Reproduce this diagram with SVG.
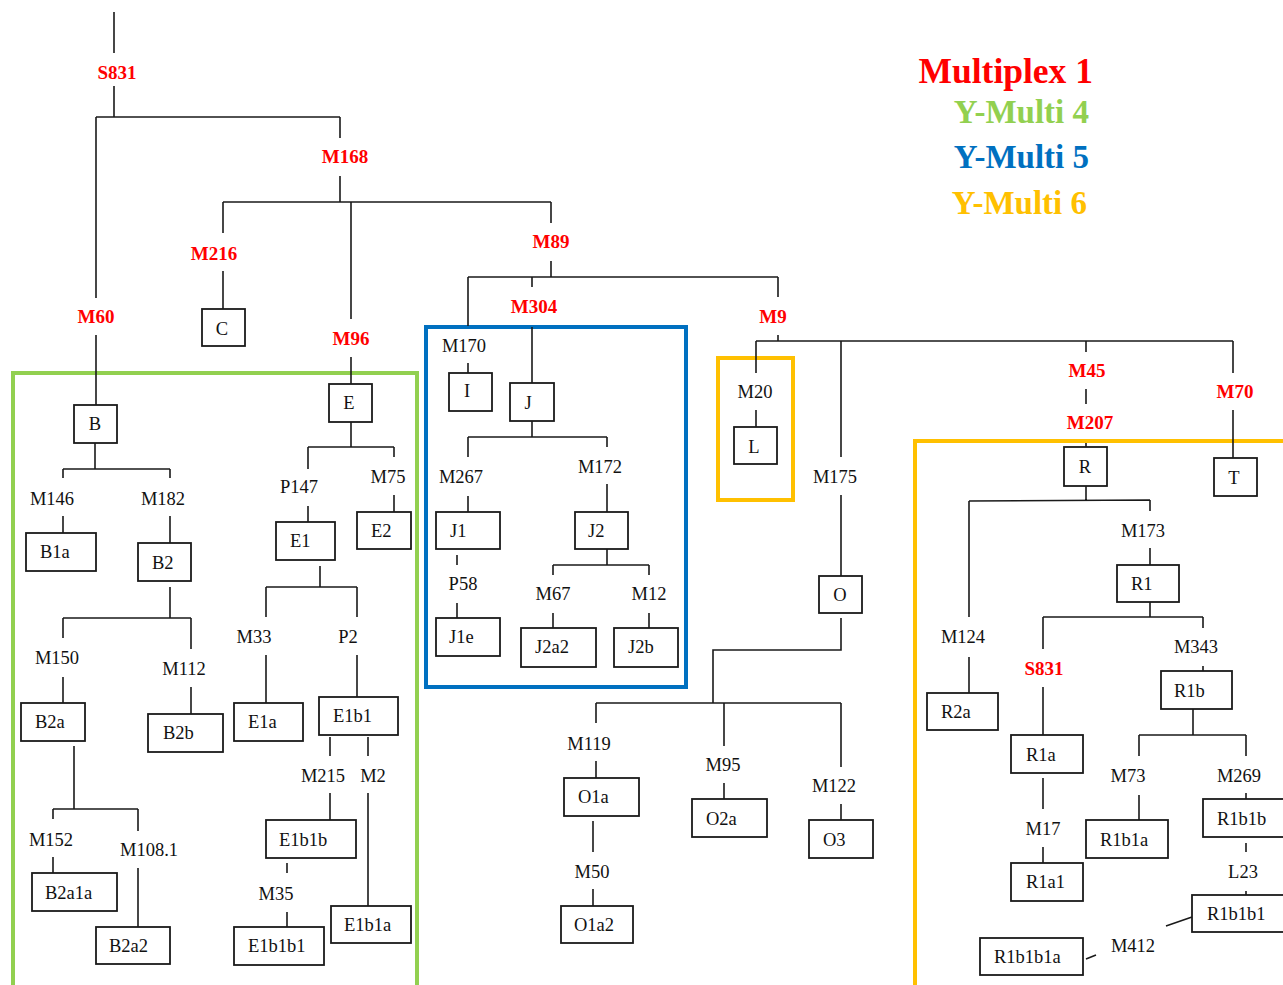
<svg xmlns="http://www.w3.org/2000/svg" width="1283" height="985" viewBox="0 0 1283 985">
<style>
.ln{fill:none;stroke:#1a1a1a;stroke-width:1.6}
.bx{fill:#fff;stroke:#1a1a1a;stroke-width:1.8}
.t{font-family:"Liberation Serif","Times New Roman",serif;font-size:18.5px;fill:#111}
.c{text-anchor:middle}
.r{font-family:"Liberation Serif","Times New Roman",serif;font-size:19px;font-weight:bold;fill:#ff0000;text-anchor:middle}
.lg{font-family:"Liberation Serif","Times New Roman",serif;font-weight:bold;text-anchor:end}
.fr{fill:none;stroke-width:4}
</style>
<rect width="1283" height="985" fill="#fff"/>
<g id="frames">
<rect class="fr" x="13" y="373" width="404" height="700" stroke="#92D050"/>
<rect class="fr" x="426" y="327" width="260" height="360" stroke="#0070C0"/>
<rect class="fr" x="718" y="358" width="75" height="142" stroke="#FFC000"/>
<rect class="fr" x="915" y="441" width="400" height="600" stroke="#FFC000"/>
</g>
<g id="legend">
<text class="lg" x="1093" y="83" font-size="35.5" fill="#ff0000">Multiplex 1</text>
<text class="lg" x="1089" y="123" font-size="33" fill="#92D050">Y-Multi 4</text>
<text class="lg" x="1089" y="168" font-size="33" fill="#0070C0">Y-Multi 5</text>
<text class="lg" x="1087" y="214" font-size="33" fill="#FFC000">Y-Multi 6</text>
</g>
<g id="connectors" class="ln">
<path d="M114,12V53M114,86V117M96,117H340M96,117V298M96,335V405M340,117V138M340,176V202M223,202H551M223,202V233M223,271V309M351,202V319M351,357V384M551,202V223M551,261V277M468,277H778M468,277V326M532,277V287M532,327V383M778,277V297M778,335V341M756,341H1233M756,341V373M756,410V427M841,341V457M841,495V576M1086,341V352M1086,389V404M1086,443V447M1233,341V373M1233,410V458"/>
<path d="M468,363V373M532,421V437M468,437H607M468,437V457M468,496V512M457,555V565M457,603V618M607,437V447M607,484V512M607,549V565M553,565H649M553,565V575M553,613V628M649,565V575M649,613V628"/>
<path d="M95,443V469M63,469H170M63,469V478M63,516V533M170,469V478M170,516V543M170,587V618M63,618H191M63,618V638M63,677V703M191,618V649M191,687V714M74,746V809M53,809H138M53,809V819M53,857V873M138,809V831M138,868V927"/>
<path d="M351,422V447M308,447H394M308,447V469M308,506V522M394,447V457M394,495V512M320,566V587M266,587H357M266,587V617M266,655V703M357,587V617M357,655V697M330,737V756M330,793V820M368,737V756M368,793V906M287,863V873M287,912V927"/>
<path d="M841,618V650H713V703M596,703H841M596,703V723M596,761V778M593,821V852M593,889V906M724,703V746M724,783V799M841,703V767M841,804V820"/>
<path d="M1086,486V500M969,501L1150,500M969,501V617M969,657V693M1150,500V511M1150,548V565M1150,602V617M1043,617H1203M1043,617V649M1043,687V735M1043,778V809M1043,847V863M1203,617V628M1203,666V671M1193,709V735M1139,735H1246M1139,735V756M1139,795V820M1246,735V756M1246,793V799M1246,843V852M1246,891V895M1166,926L1192,917M1086,959L1096,955"/>
</g>
<g id="markers-red">
<text class="r" x="117" y="79">S831</text>
<text class="r" x="345" y="163">M168</text>
<text class="r" x="214" y="260">M216</text>
<text class="r" x="96" y="323">M60</text>
<text class="r" x="351" y="345">M96</text>
<text class="r" x="551" y="248">M89</text>
<text class="r" x="534" y="313">M304</text>
<text class="r" x="773" y="323">M9</text>
<text class="r" x="1087" y="377">M45</text>
<text class="r" x="1090" y="429">M207</text>
<text class="r" x="1235" y="398">M70</text>
<text class="r" x="1044" y="675">S831</text>
</g>
<g id="markers">
<text class="t c" x="464" y="352">M170</text>
<text class="t c" x="461" y="483">M267</text>
<text class="t c" x="463" y="590">P58</text>
<text class="t c" x="600" y="473">M172</text>
<text class="t c" x="553" y="600">M67</text>
<text class="t c" x="649" y="600">M12</text>
<text class="t c" x="52" y="505">M146</text>
<text class="t c" x="163" y="505">M182</text>
<text class="t c" x="57" y="664">M150</text>
<text class="t c" x="184" y="675">M112</text>
<text class="t c" x="51" y="846">M152</text>
<text class="t c" x="149" y="856">M108.1</text>
<text class="t c" x="299" y="493">P147</text>
<text class="t c" x="388" y="483">M75</text>
<text class="t c" x="254" y="643">M33</text>
<text class="t c" x="348" y="643">P2</text>
<text class="t c" x="323" y="782">M215</text>
<text class="t c" x="373" y="782">M2</text>
<text class="t c" x="276" y="900">M35</text>
<text class="t c" x="755" y="398">M20</text>
<text class="t c" x="835" y="483">M175</text>
<text class="t c" x="589" y="750">M119</text>
<text class="t c" x="592" y="878">M50</text>
<text class="t c" x="723" y="771">M95</text>
<text class="t c" x="834" y="792">M122</text>
<text class="t c" x="963" y="643">M124</text>
<text class="t c" x="1143" y="537">M173</text>
<text class="t c" x="1043" y="835">M17</text>
<text class="t c" x="1196" y="653">M343</text>
<text class="t c" x="1128" y="782">M73</text>
<text class="t c" x="1239" y="782">M269</text>
<text class="t c" x="1243" y="878">L23</text>
<text class="t c" x="1133" y="952">M412</text>
</g>
<g id="node-C"><rect class="bx" x="202" y="309" width="43" height="37"/><text class="t c" x="222" y="335">C</text></g>
<g id="node-B"><rect class="bx" x="74" y="405" width="43" height="38"/><text class="t c" x="95" y="430">B</text></g>
<g id="node-B1a"><rect class="bx" x="26" y="533" width="70" height="38"/><text class="t" x="40" y="558">B1a</text></g>
<g id="node-B2"><rect class="bx" x="138" y="543" width="53" height="38"/><text class="t" x="152" y="569">B2</text></g>
<g id="node-B2a"><rect class="bx" x="21" y="703" width="64" height="38"/><text class="t" x="35" y="728">B2a</text></g>
<g id="node-B2b"><rect class="bx" x="148" y="714" width="75" height="38"/><text class="t" x="163" y="739">B2b</text></g>
<g id="node-B2a1a"><rect class="bx" x="32" y="873" width="85" height="38"/><text class="t" x="45" y="899">B2a1a</text></g>
<g id="node-B2a2"><rect class="bx" x="96" y="927" width="74" height="37"/><text class="t" x="109" y="952">B2a2</text></g>
<g id="node-E"><rect class="bx" x="329" y="384" width="43" height="38"/><text class="t c" x="349" y="409">E</text></g>
<g id="node-E1"><rect class="bx" x="276" y="522" width="59" height="38"/><text class="t" x="290" y="547">E1</text></g>
<g id="node-E2"><rect class="bx" x="357" y="512" width="54" height="37"/><text class="t" x="371" y="537">E2</text></g>
<g id="node-E1a"><rect class="bx" x="234" y="703" width="69" height="38"/><text class="t" x="248" y="728">E1a</text></g>
<g id="node-E1b1"><rect class="bx" x="319" y="697" width="79" height="38"/><text class="t" x="333" y="722">E1b1</text></g>
<g id="node-E1b1b"><rect class="bx" x="266" y="820" width="90" height="38"/><text class="t" x="279" y="846">E1b1b</text></g>
<g id="node-E1b1a"><rect class="bx" x="331" y="906" width="80" height="37"/><text class="t" x="344" y="931">E1b1a</text></g>
<g id="node-E1b1b1"><rect class="bx" x="234" y="927" width="90" height="38"/><text class="t" x="248" y="952">E1b1b1</text></g>
<g id="node-I"><rect class="bx" x="449" y="373" width="43" height="38"/><text class="t c" x="467" y="397">I</text></g>
<g id="node-J"><rect class="bx" x="510" y="383" width="44" height="38"/><text class="t c" x="528" y="409">J</text></g>
<g id="node-J1"><rect class="bx" x="436" y="512" width="64" height="37"/><text class="t" x="450" y="537">J1</text></g>
<g id="node-J1e"><rect class="bx" x="436" y="618" width="64" height="38"/><text class="t" x="449" y="643">J1e</text></g>
<g id="node-J2"><rect class="bx" x="575" y="512" width="53" height="37"/><text class="t" x="588" y="537">J2</text></g>
<g id="node-J2a2"><rect class="bx" x="521" y="628" width="75" height="39"/><text class="t" x="535" y="653">J2a2</text></g>
<g id="node-J2b"><rect class="bx" x="614" y="628" width="64" height="39"/><text class="t" x="628" y="653">J2b</text></g>
<g id="node-L"><rect class="bx" x="734" y="427" width="43" height="37"/><text class="t c" x="754" y="453">L</text></g>
<g id="node-O"><rect class="bx" x="819" y="576" width="43" height="37"/><text class="t c" x="840" y="601">O</text></g>
<g id="node-O1a"><rect class="bx" x="564" y="778" width="75" height="38"/><text class="t" x="578" y="803">O1a</text></g>
<g id="node-O1a2"><rect class="bx" x="561" y="906" width="72" height="37"/><text class="t" x="574" y="931">O1a2</text></g>
<g id="node-O2a"><rect class="bx" x="692" y="799" width="75" height="38"/><text class="t" x="706" y="825">O2a</text></g>
<g id="node-O3"><rect class="bx" x="809" y="820" width="64" height="38"/><text class="t" x="823" y="846">O3</text></g>
<g id="node-R"><rect class="bx" x="1064" y="447" width="43" height="39"/><text class="t c" x="1085" y="473">R</text></g>
<g id="node-T"><rect class="bx" x="1214" y="458" width="43" height="38"/><text class="t c" x="1234" y="484">T</text></g>
<g id="node-R2a"><rect class="bx" x="927" y="693" width="71" height="37"/><text class="t" x="941" y="718">R2a</text></g>
<g id="node-R1"><rect class="bx" x="1117" y="565" width="62" height="37"/><text class="t" x="1131" y="590">R1</text></g>
<g id="node-R1a"><rect class="bx" x="1011" y="735" width="72" height="38"/><text class="t" x="1026" y="761">R1a</text></g>
<g id="node-R1a1"><rect class="bx" x="1011" y="863" width="72" height="38"/><text class="t" x="1026" y="888">R1a1</text></g>
<g id="node-R1b"><rect class="bx" x="1161" y="671" width="71" height="38"/><text class="t" x="1174" y="697">R1b</text></g>
<g id="node-R1b1a"><rect class="bx" x="1086" y="820" width="82" height="38"/><text class="t" x="1100" y="846">R1b1a</text></g>
<g id="node-R1b1b"><rect class="bx" x="1203" y="799" width="90" height="38"/><text class="t" x="1217" y="825">R1b1b</text></g>
<g id="node-R1b1b1"><rect class="bx" x="1192" y="895" width="100" height="37"/><text class="t" x="1207" y="920">R1b1b1</text></g>
<g id="node-R1b1b1a"><rect class="bx" x="980" y="938" width="103" height="37"/><text class="t" x="994" y="963">R1b1b1a</text></g>
</svg>
